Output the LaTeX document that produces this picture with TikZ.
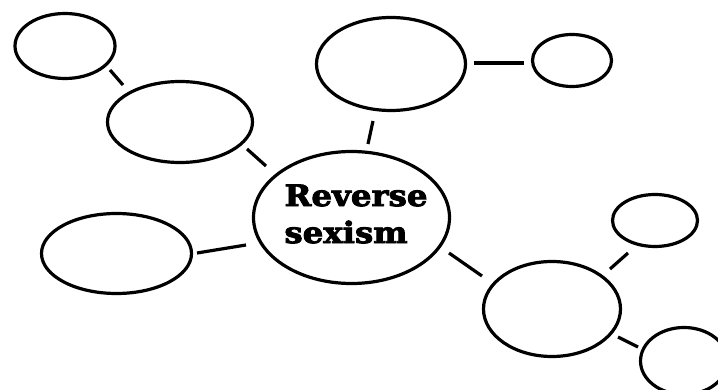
\documentclass[tikz,border=0pt]{standalone}
\usepackage{fontspec}
\newfontfamily\hubfont{DejaVu Serif}[BoldFeatures={FakeStretch=1.1, FakeBold=3}]
\usetikzlibrary{shapes.geometric,calc}

\tikzset{
  bubble/.style={draw=black, line width=3.2pt, ellipse, inner sep=0pt, outer sep=0pt},
  link/.style={draw=black, line width=3.2pt},
  hubtext/.style={font=\hubfont\bfseries\fontsize{29.5}{37}\selectfont, align=left, inner sep=0pt, text=black}
}

\begin{document}
\begin{tikzpicture}[x=1pt, y=-1pt]
  \useasboundingbox (0,0) rectangle (718,390);
  \fill[white] (0,0) rectangle (718,390);
  \clip (0,0) rectangle (718,390);

  % central topic
  \node[bubble, minimum width=196pt, minimum height=132pt] (hub) at (351.5,217.5) {};
  \node[hubtext] (hublabel) at (356,214) {Reverse\\sexism};

  % surrounding bubbles
  \node[bubble, minimum width=100pt, minimum height=65pt] (tl) at (65,46) {};
  \node[bubble, minimum width=145pt, minimum height=81pt] (ml) at (180,122) {};
  \node[bubble, minimum width=149pt, minimum height=93pt] (tm) at (391,64) {};
  \node[bubble, minimum width=79pt, minimum height=52pt] (tr) at (572,60.5) {};
  \node[bubble, minimum width=150pt, minimum height=80pt] (bl) at (116.5,253.5) {};
  \node[bubble, minimum width=85pt, minimum height=52pt] (rs) at (655,220.5) {};
  \node[bubble, minimum width=137pt, minimum height=95pt] (rb) at (552,309) {};
  \node[bubble, minimum width=87pt, minimum height=67pt] (br) at (684,361) {};

  % connectors between bubbles
  \draw[link] ($(tl)+(45,24)$) -- ($(ml)+(-57,-37)$);
  \draw[link] ($(ml)+(67,27)$) -- ($(hub)+(-85.5,-51.5)$);
  \draw[link] ($(tm)+(83,-1)$) -- ($(tr)+(-48,2.5)$);
  \draw[link] ($(tm)+(-18,57)$) -- ($(hub)+(16.5,-73.5)$);
  \draw[link] ($(bl)+(80.5,-0.5)$) -- ($(hub)+(-105.5,27.5)$);
  \draw[link] ($(hub)+(97.5,35.5)$) -- ($(rb)+(-70,-33)$);
  \draw[link] ($(rb)+(58,-40)$) -- ($(rs)+(-27,32.5)$);
  \draw[link] ($(rb)+(66,28)$) -- ($(br)+(-46,-14)$);
\end{tikzpicture}
\end{document}
